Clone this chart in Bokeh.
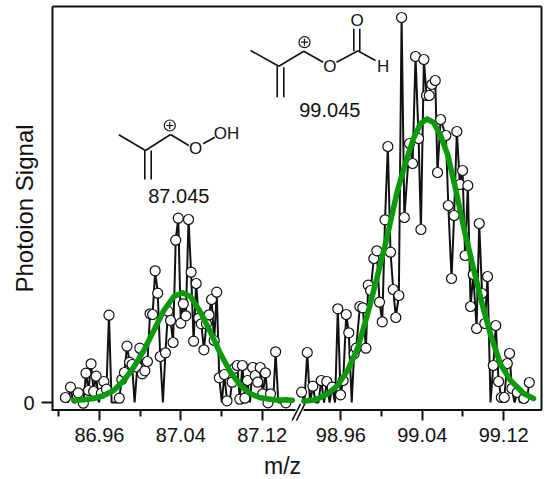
from bokeh.plotting import figure
from bokeh.embed import file_html
from bokeh.resources import INLINE
from bokeh.core.properties import value
from bokeh.models import FixedTicker, Range1d, LinearAxis

FONT = "Liberation Sans"

# --- data: m/z and signal (arbitrary units) ---
mz_87 = [86.9266, 86.9291, 86.9316, 86.9342, 86.9367, 86.9392, 86.9417, 86.9442, 86.9468, 86.9493,
         86.9518, 86.9543, 86.9568, 86.9594, 86.9619, 86.9644, 86.9669, 86.9694, 86.9720, 86.9745,
         86.9770, 86.9795, 86.9820, 86.9846, 86.9871, 86.9896, 86.9921, 86.9946, 86.9972, 86.9997,
         87.0022, 87.0047, 87.0072, 87.0098, 87.0123, 87.0148, 87.0173, 87.0198, 87.0224, 87.0249,
         87.0274, 87.0299, 87.0324, 87.0350, 87.0375, 87.0400, 87.0425, 87.0450, 87.0476, 87.0501,
         87.0526, 87.0551, 87.0576, 87.0602, 87.0627, 87.0652, 87.0677, 87.0702, 87.0728, 87.0753,
         87.0778, 87.0803, 87.0828, 87.0854, 87.0879, 87.0904, 87.0929, 87.0954, 87.0980, 87.1005,
         87.1030, 87.1055, 87.1080, 87.1106, 87.1131, 87.1156, 87.1181, 87.1206, 87.1232, 87.1257,
         87.1282, 87.1307, 87.1332, 87.1358, 87.1383, 87.1408, 87.1433]
sig_87 = [5, 0, 15.3, 0, 0, 9.7, 0, -0.7, 29.3, 12,
          38.7, 11, 26.3, 0, 9.3, 21, 13.3, 87.3, 0, 0,
          0, 4.3, 23, 30, 56.3, 40.3, 38, 0, 35.3, 54.3,
          28.7, 31.7, 41, 88.7, 88, 131.7, 109.3, 46, 0, 49.7,
          91.3, 82, 60, 162.3, 184.3, 79.3, 98.7, 86.7, 183, 130.3,
          61.3, 119, 84.3, 78.7, 52.7, 78.7, 87.7, 103, 62, 110.3,
          24.7, 0, 28, 1.7, 0, 20.3, 34.3, 37, 3.3, 37,
          4.3, 22, 0, 35, 27, 20.3, 35, 8.7, 29.7, -0.3,
          8.7, 0, 50.7, 0, 0, 0, -0.3]
fit_mz_87 = [86.9348, 86.9446, 86.9545, 86.9643, 86.9741, 86.9840, 86.9938, 87.0036, 87.0135, 87.0233, 87.0331,
             87.0414, 87.0495, 87.0594, 87.0692, 87.0790, 87.0889, 87.0987, 87.1085, 87.1183, 87.1314, 87.1495]
fit_sig_87 = [2.3, 2.7, 4, 7, 12, 22, 35.3, 52, 72, 92, 106,
              109.7, 106, 90.3, 70.3, 48.7, 30.3, 17, 8.7, 4.7, 2.7, 2.3]

mz_99 = [98.9214, 98.9241, 98.9270, 98.9297, 98.9325, 98.9352, 98.9380, 98.9407, 98.9435, 98.9462,
         98.9489, 98.9515, 98.9543, 98.9570, 98.9597, 98.9623, 98.9653, 98.9678, 98.9707, 98.9730,
         98.9751, 98.9787, 98.9816, 98.9846, 98.9869, 98.9892, 98.9924, 98.9954, 98.9980, 99.0007,
         99.0034, 99.0062, 99.0088, 99.0115, 99.0140, 99.0170, 99.0197, 99.0224, 99.0275, 99.0305,
         99.0334, 99.0364, 99.0387, 99.0416, 99.0442, 99.0469, 99.0494, 99.0528, 99.0550, 99.0580,
         99.0632, 99.0656, 99.0688, 99.0713, 99.0740, 99.0770, 99.0796, 99.0821, 99.0848, 99.0875,
         99.0901, 99.0934, 99.0960, 99.0988, 99.1015, 99.1042, 99.1071, 99.1098, 99.1123, 99.1150,
         99.1177, 99.1206, 99.1236, 99.1258, 99.1281, 99.1307, 99.1334, 99.1361, 99.1399, 99.1425,
         99.1452]
sig_99 = [10.3, 0, 50, 0, 16.3, 0, 0, 22, 0, 21,
          0, 15.3, 0, 93.7, 7.7, 22, 88, 69.7, 0, 48.7,
          54.3, 96, 94.7, 54.3, 117.3, 112, 144, 151.7, 100.3, 80.7,
          182.7, 256, 150.3, 113, 85, 107, 385, 185, 259, 239,
          346, 264, 173, 343, 307, 307, 318, 322, 230, 283,
          267, 197, 124, 187, 271, 218, 232, 147, 217, 96,
          128, 74, 179, 109, 79, 126, 0, 37, 77, 21,
          5, 5, 39, 49, 14, 0, 10, 0, 4, 0,
          20]
fit_mz_99 = [98.9236, 98.9351, 98.9469, 98.9567, 98.9666, 98.9764, 98.9859, 98.9958, 99.0056, 99.0154, 99.0236,
             99.0314, 99.0383, 99.0447, 99.0511, 99.0580, 99.0649, 99.0727, 99.0806, 99.0901, 99.0990,
             99.1071, 99.1170, 99.1268, 99.1396, 99.1494]
fit_sig_99 = [1.3, 2.7, 8.5, 17, 32, 54, 87, 126, 166, 211, 240,
              264, 279, 283.5, 280, 267, 248, 214, 176, 135, 98,
              68, 38, 22, 9, 4]

major_87 = [86.96, 87.04, 87.12]
minor_87 = [86.92, 87.00, 87.08]
major_99 = [98.96, 99.04, 99.12]
minor_99 = [99.00, 99.08]
major_labels = ["86.96", "87.04", "87.12", "98.96", "99.04", "99.12"]

BREAK_SHIFT = 11.7627   # m/z removed by the axis break
def sh(vals):
    return [round(v - BREAK_SHIFT, 4) for v in vals]

# --- annotation drawings, in picture pixels ---
bond_x0 = [250, 278.3, 303.3, 336, 276.7, 283.3, 353.3, 359.3, 356.7,
           118.3, 145, 170, 202.7, 144.3, 150.7]
bond_y0 = [50, 65.7, 50.7, 61.7, 65.7, 66.7, 50.7, 50.7, 50,
           134.3, 150, 134, 143.3, 150, 150]
bond_x1 = [278.3, 303.3, 322.7, 356.7, 276.7, 283.3, 353.3, 359.3, 375,
           145, 170, 188.3, 214.3, 144.3, 150.7]
bond_y1 = [65.7, 50.7, 61.7, 50.7, 96.7, 96.7, 28.3, 28.3, 60,
           150, 134, 145, 136.7, 179, 179]
plus_x = [304, 169.3]
plus_y = [41.7, 125]
atom_x = [329.3, 356.7, 382.7, 195, 226]
atom_y = [65.7, 20, 66, 148.3, 133.3]
atom_t = ["O", "O", "H", "O", "OH"]
mass_x = [329.3, 178.3]
mass_y = [109.3, 195.7]
mass_t = ["99.045", "87.045"]

p = figure(width=543, height=479, output_backend="svg", toolbar_location=None,
           x_range=Range1d(86.9139, 87.3945), y_range=Range1d(-7, 396),
           min_border_left=52, min_border_right=2, min_border_top=6, min_border_bottom=70,
           x_axis_location="below", y_axis_location="left")
p.extra_x_ranges["px"] = Range1d(52, 541)
p.extra_y_ranges["px"] = Range1d(409, 6)
p.outline_line_alpha = 0
p.grid.visible = False
p.background_fill_color = "white"

major_all = major_87 + sh(major_99)
minor_all = minor_87 + sh(minor_99)
ax = p.xaxis[0]
ax.ticker = FixedTicker(ticks=major_all, minor_ticks=minor_all)
ax.major_label_overrides = {t: l for t, l in zip(major_all, major_labels)}
ax.major_tick_in = 0
ax.major_tick_out = 11
ax.minor_tick_in = 0
ax.minor_tick_out = 7
ax.major_tick_line_width = 2
ax.minor_tick_line_width = 2
ax.major_tick_line_color = "#111111"
ax.minor_tick_line_color = "#111111"
ax.axis_line_alpha = 0
ax.major_label_text_font = FONT
ax.major_label_text_font_size = "20px"
ax.major_label_text_color = "#111111"
ax.major_label_standoff = 7

ay = p.yaxis[0]
ay.ticker = FixedTicker(ticks=[0])
ay.minor_tick_line_alpha = 0
ay.major_tick_in = 0
ay.major_tick_out = 11
ay.major_tick_line_width = 2
ay.major_tick_line_color = "#111111"
ay.axis_line_width = 2
ay.axis_line_color = "#111111"
ay.major_label_text_font = FONT
ay.major_label_text_font_size = "20px"
ay.major_label_text_color = "#111111"
ay.major_label_standoff = 7
ay.major_label_orientation = "horizontal"

# plain top and right frame edges
for side in ("above", "right"):
    edge = LinearAxis(ticker=FixedTicker(ticks=[]), major_tick_line_alpha=0, minor_tick_line_alpha=0,
                      major_label_text_alpha=0, major_label_text_font_size="0px", major_label_standoff=0,
                      major_tick_out=0, minor_tick_out=0, axis_line_color="#111111", axis_line_width=2)
    p.add_layout(edge, side)

# broken bottom edge and break marks
p.segment(x0=[51, 303], y0=[409.5, 409.5], x1=[295, 541.5], y1=[409.5, 409.5],
          x_range_name="px", y_range_name="px", line_color="#111111", line_width=2, level="annotation")
p.segment(x0=[291.7, 296], y0=[420, 420], x1=[300, 304.3], y1=[403.3, 403.3],
          x_range_name="px", y_range_name="px", line_color="#111111", line_width=1.6, level="annotation")

# data
for mz, sig in ((mz_87, sig_87), (sh(mz_99), sig_99)):
    p.line(mz, sig, line_color="#111111", line_width=2)
    mx = [m for m, s in zip(mz, sig) if s != 0]
    my = [s for s in sig if s != 0]
    p.scatter(mx, my, marker="circle", size=10, fill_color="white", line_color="#111111", line_width=1.2)
p.line(fit_mz_87, fit_sig_87, line_color="#0a9a0a", line_width=5.5, line_cap="round", line_join="round")
p.line(sh(fit_mz_99), fit_sig_99, line_color="#0a9a0a", line_width=5.5, line_cap="round", line_join="round")

# structures
p.segment(x0=bond_x0, y0=bond_y0, x1=bond_x1, y1=bond_y1, x_range_name="px", y_range_name="px",
          line_color="#111111", line_width=1.6, level="annotation")
p.scatter(plus_x, plus_y, marker="circle", size=11, fill_color="white", line_color="#111111", line_width=1.2,
          x_range_name="px", y_range_name="px", level="annotation")
p.scatter(plus_x, plus_y, marker="cross", size=7, line_color="#111111", line_width=1.2,
          x_range_name="px", y_range_name="px", level="annotation")
p.text(atom_x, atom_y, text=atom_t, x_range_name="px", y_range_name="px", text_font=value(FONT),
       text_font_size="17px", text_align="center", text_baseline="middle", text_color="#111111", level="annotation")
p.text(mass_x, mass_y, text=mass_t, x_range_name="px", y_range_name="px", text_font=value(FONT),
       text_font_size="20px", text_align="center", text_baseline="middle", text_color="#111111", level="annotation")
# axis titles
p.text([282], [465], text=["m/z"], x_range_name="px", y_range_name="px", text_font=value(FONT),
       text_font_size="23px", text_align="center", text_baseline="middle", text_color="#111111", level="annotation")
p.text([24], [208], text=["Photoion Signal"], angle=1.5708, x_range_name="px", y_range_name="px", text_font=value(FONT),
       text_font_size="24px", text_align="center", text_baseline="middle", text_color="#111111", level="annotation")

open("out.html", "w").write(file_html(p, INLINE))
